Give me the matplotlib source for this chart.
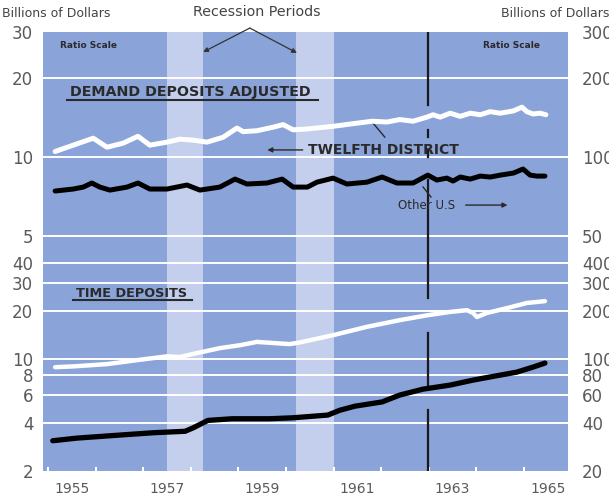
import matplotlib
matplotlib.use("Agg")
from matplotlib import pyplot as plt
from matplotlib.ticker import NullLocator

# demand deposits adjusted, Twelfth District (billions, left scale)
dd12_x = [1955.15, 1955.53, 1955.95, 1956.24, 1956.58, 1956.89, 1957.14, 1957.50,
          1957.77, 1958.05, 1958.34, 1958.68, 1958.97, 1959.10, 1959.39, 1959.73,
          1959.94, 1960.15, 1960.45, 1960.99, 1961.40, 1961.81, 1962.12, 1962.39,
          1962.67, 1962.96, 1963.09, 1963.24, 1963.45, 1963.66, 1963.87, 1964.08,
          1964.29, 1964.50, 1964.78, 1964.96, 1965.06, 1965.19, 1965.34, 1965.46]
dd12 = [10.5, 11.1, 11.8, 10.9, 11.3, 12.0, 11.1, 11.4,
        11.7, 11.6, 11.4, 11.9, 12.9, 12.5, 12.6, 13.0,
        13.3, 12.7, 12.8, 13.1, 13.4, 13.7, 13.6, 13.9,
        13.7, 14.2, 14.5, 14.2, 14.7, 14.3, 14.7, 14.5,
        14.9, 14.7, 15.0, 15.5, 14.9, 14.6, 14.7, 14.5]

# demand deposits adjusted, other U.S. (billions, right scale)
ddus_x = [1955.15, 1955.53, 1955.74, 1955.92, 1956.09, 1956.30, 1956.66, 1956.89,
          1957.14, 1957.50, 1957.92, 1958.19, 1958.61, 1958.93, 1959.18, 1959.60,
          1959.92, 1960.15, 1960.45, 1960.65, 1960.99, 1961.28, 1961.70, 1962.02,
          1962.33, 1962.67, 1962.98, 1963.17, 1963.38, 1963.51, 1963.66, 1963.87,
          1964.08, 1964.29, 1964.50, 1964.78, 1964.98, 1965.13, 1965.27, 1965.44]
ddus = [74.2, 75.5, 76.8, 79.6, 76.8, 74.8, 76.8, 79.6,
        75.5, 75.5, 78.2, 74.8, 76.8, 82.4, 78.9, 79.6,
        82.4, 76.8, 76.8, 80.2, 83.1, 78.9, 80.2, 83.9,
        79.6, 79.6, 85.3, 81.7, 83.1, 81.0, 83.9, 82.4,
        84.6, 83.9, 85.3, 86.9, 90.0, 85.3, 84.6, 84.6]

# time deposits, Twelfth District (left scale)
td12_x = [1955.15, 1955.53, 1956.24, 1956.93, 1957.50, 1957.77, 1958.13, 1958.61,
          1959.03, 1959.39, 1959.73, 1960.08, 1960.29, 1960.99, 1961.70, 1962.39,
          1962.98, 1963.45, 1963.80, 1963.93, 1964.01, 1964.22, 1964.64, 1965.06,
          1965.44]
td12 = [8.9, 9.0, 9.3, 9.9, 10.4, 10.3, 10.9, 11.7,
        12.2, 12.8, 12.6, 12.4, 12.7, 14.1, 15.9, 17.5,
        18.8, 19.7, 20.2, 19.4, 18.3, 19.4, 20.8, 22.4,
        23.0]

# time deposits, other U.S. (right scale)
tdus_x = [1955.10, 1955.61, 1956.43, 1957.23, 1957.88, 1958.05, 1958.36, 1958.87,
          1959.66, 1960.15, 1960.88, 1961.13, 1961.45, 1962.02, 1962.39, 1962.88,
          1963.45, 1963.93, 1964.50, 1964.85, 1965.19, 1965.44]
tdus = [30.9, 32.1, 33.4, 34.7, 35.4, 37.2, 41.4, 42.4,
        42.4, 43.0, 44.7, 47.9, 50.8, 54.0, 59.6, 64.9,
        68.8, 73.9, 79.4, 82.9, 89.1, 94.4]

recessions = [(1957.50, 1958.26), (1960.20, 1961.00)]
break_year = 1962.98
years = list(range(1955, 1966))
year_labels = ["1955", "1957", "1959", "1961", "1963", "1965"]
XLIM = (1954.895, 1965.924)

top_ticks = [30, 20, 10, 5]
top_rticks = [300, 200, 100, 50]
top_grid = [20, 10, 5]
bot_ticks = [40, 30, 20, 10, 8, 6, 4, 2]
bot_rticks = [400, 300, 200, 100, 80, 60, 40, 20]
bot_grid = [40, 30, 20, 10, 8, 6, 4]

BG = "#8aa3d8"
BAND = "#c3cfec"
INK = "#2a2a2a"
NUM = "#5a5a5a"


def setup_panel(ax, ylim, ticks, rticks, grid):
    """blue log panel with a twin right axis at ten times the left scale"""
    ax.set_facecolor(BG)
    ax.set_yscale("log")
    ax.set_ylim(*ylim)
    for s in ax.spines.values():
        s.set_visible(False)
    for a, b in recessions:
        ax.axvspan(a, b, color=BAND, zorder=0.5, lw=0)
    for g in grid:
        ax.axhline(g, color="white", lw=1.4, zorder=1)
    ax.set_yticks(ticks)
    ax.set_yticklabels([str(t) for t in ticks])
    ax.yaxis.set_minor_locator(NullLocator())
    ax.tick_params(axis="y", length=0, pad=7, labelsize=12, labelcolor=NUM)

    rt = ax.twinx()
    rt.set_yscale("log")
    rt.set_ylim(ylim[0] * 10, ylim[1] * 10)
    for s in rt.spines.values():
        s.set_visible(False)
    rt.set_yticks(rticks)
    rt.set_yticklabels([str(t) for t in rticks])
    rt.yaxis.set_minor_locator(NullLocator())
    rt.tick_params(axis="y", length=0, pad=10, labelsize=12, labelcolor=NUM)
    return rt


fig = plt.figure(figsize=(6.09, 4.96), dpi=100)
ax_top = fig.add_axes([0.0706, 0.496, 0.862, 0.4395])
ax_bot = fig.add_axes([0.0706, 0.0504, 0.862, 0.4456])

rt_top = setup_panel(ax_top, (4.42, 30), top_ticks, top_rticks, top_grid)
rt_bot = setup_panel(ax_bot, (2, 48), bot_ticks, bot_rticks, bot_grid)

# x axis: labels under odd years, small white ticks at year boundaries
ax_top.set_xticks([])
ax_top.xaxis.set_minor_locator(NullLocator())
ax_bot.set_xticks([int(y) + 0.5 for y in year_labels])
ax_bot.set_xticklabels(year_labels)
ax_bot.set_xticks(years, minor=True)
ax_bot.tick_params(axis="x", which="major", length=0, pad=8, labelsize=10, labelcolor=NUM)
ax_bot.tick_params(axis="x", which="minor", direction="in", length=3, width=1.5, color="white")

# series
ax_top.plot(dd12_x, dd12, color="white", lw=3.6, solid_capstyle="round", zorder=3)
rt_top.plot(ddus_x, ddus, color="black", lw=3.6, solid_capstyle="round", zorder=3)
ax_bot.plot(td12_x, td12, color="white", lw=3.2, solid_capstyle="round", zorder=3)
rt_bot.plot(tdus_x, tdus, color="black", lw=3.8, solid_capstyle="round", zorder=3)
for ax in (ax_top, ax_bot, rt_top, rt_bot):
    ax.set_xlim(*XLIM)

# broken vertical marker line
for lo, hi in [(0.665, 1.0), (0.518, 0.55), (0.427, 0.459), (0.0, 0.321)]:
    ax_top.axvline(break_year, ymin=lo, ymax=hi, color="#1a1a1a", lw=1.6, zorder=2)
for lo, hi in [(0.783, 1.0), (0.389, 0.624), (0.0, 0.276)]:
    ax_bot.axvline(break_year, ymin=lo, ymax=hi, color="#1a1a1a", lw=1.6, zorder=2)

# labels inside the panels
ax_top.text(0.032, 0.94, "Ratio Scale", transform=ax_top.transAxes, fontsize=6.5,
            fontweight="bold", color=INK, va="center")
ax_top.text(0.947, 0.94, "Ratio Scale", transform=ax_top.transAxes, fontsize=6.5,
            fontweight="bold", color=INK, va="center", ha="right")
ax_top.text(0.052, 0.725, "DEMAND DEPOSITS ADJUSTED", transform=ax_top.transAxes,
            fontsize=10.3, fontweight="bold", color=INK, va="center")
ax_top.plot([0.046, 0.524], [0.686, 0.686], transform=ax_top.transAxes, color=INK, lw=1.5)
ax_top.annotate("", xy=(0.422, 0.459), xytext=(0.5, 0.459), xycoords="axes fraction",
                arrowprops=dict(arrowstyle="-|>", color=INK, lw=1.0, mutation_scale=7))
ax_top.text(0.505, 0.459, "TWELFTH DISTRICT", transform=ax_top.transAxes,
            fontsize=10, fontweight="bold", color=INK, va="center")
ax_top.plot([0.627, 0.651], [0.587, 0.518], transform=ax_top.transAxes, color=INK, lw=1.0)
ax_top.text(0.676, 0.206, "Other U.S", transform=ax_top.transAxes, fontsize=8.5,
            color=INK, va="center")
ax_top.annotate("", xy=(0.89, 0.206), xytext=(0.8, 0.206), xycoords="axes fraction",
                arrowprops=dict(arrowstyle="-|>", color=INK, lw=1.0, mutation_scale=7))
ax_top.plot([0.724, 0.739], [0.289, 0.243], transform=ax_top.transAxes, color=INK, lw=1.0)

ax_bot.text(0.062, 0.805, "TIME DEPOSITS", transform=ax_bot.transAxes, fontsize=9.3,
            fontweight="bold", color=INK, va="center")
ax_bot.plot([0.057, 0.284], [0.772, 0.772], transform=ax_bot.transAxes, color=INK, lw=1.5)

# headers above the chart
fig.text(0.004, 0.972, "Billions of Dollars", fontsize=9, color="#444444", va="center")
fig.text(0.822, 0.972, "Billions of Dollars", fontsize=9, color="#444444", va="center")
fig.text(0.422, 0.976, "Recession Periods", fontsize=10.3, color="#444444",
         va="center", ha="center")
apex = (1959.24, 1.018)
for tip in [(1958.26, 0.908), (1960.23, 0.904)]:
    ax_top.annotate("", xy=tip, xytext=apex, xycoords=ax_top.get_xaxis_transform(),
                    textcoords=ax_top.get_xaxis_transform(), annotation_clip=False,
                    arrowprops=dict(arrowstyle="-|>", color="#333333", lw=0.9,
                                    mutation_scale=7, shrinkA=0, shrinkB=0))

fig.savefig("out.png", dpi=100)
